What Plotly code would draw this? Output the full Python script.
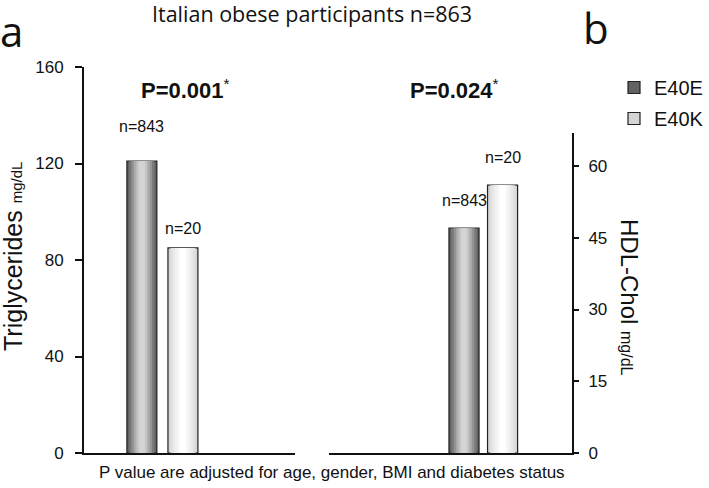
import plotly.graph_objects as go

# ---- data ----
genotypes = ["E40E", "E40K"]
tg_values = [121, 85]          # Triglycerides, mg/dL
hdl_values = [47, 56]          # HDL-Chol, mg/dL
n_labels = ["n=843", "n=20"]
tg_ticks = [0, 40, 80, 120, 160]
hdl_ticks = [0, 15, 30, 45, 60]
p_left = "P=0.001"
p_right = "P=0.024"
title_text = "Italian obese participants n=863"
footnote = "P value are adjusted for age, gender, BMI and diabetes status"

# ---- styling ----
W, H = 709, 488
ARIAL = "Liberation Sans, Arial, sans-serif"
CAL = "Open Sans, Noto Sans, sans-serif"

# nested layers emulate the cylindrical gradient of the original bars
layer_frac = [1.0, 0.84, 0.68, 0.52, 0.36, 0.2]
layer_colors = {
    "E40E": ["#636363", "#7a7a7a", "#949494", "#adadad", "#c4c4c4", "#d4d4d4"],
    "E40K": ["#d6d6d6", "#e0e0e0", "#e9e9e9", "#f1f1f1", "#f8f8f8", "#ffffff"],
}
# vertical gap (px) of each "n=" label above its bar
tg_label_gap = [24, 9]
hdl_label_gap = [17, 17]


def px(xp):
    return xp / W


def py(yp):
    return 1 - yp / H


fig = go.Figure()


def add_bars(values, xa, ya, width, show_legend):
    for g, v in zip(genotypes, values):
        for i, (f, c) in enumerate(zip(layer_frac, layer_colors[g])):
            outer = i == 0
            fig.add_trace(go.Bar(
                x=[g], y=[v], width=width * f,
                xaxis=xa, yaxis=ya,
                name=g, legendgroup=g,
                showlegend=show_legend and outer,
                marker=dict(color=c,
                            line=dict(color="#222222", width=1.2 if outer else 0)),
                hoverinfo="skip",
            ))


add_bars(tg_values, "x", "y", 0.73, True)
add_bars(hdl_values, "x2", "y2", 0.78, False)

annotations = []
# n labels above bars
for g, v, n, gap in zip(genotypes, tg_values, n_labels, tg_label_gap):
    annotations.append(dict(x=g, y=v, xref="x", yref="y", text=n, showarrow=False,
                            yanchor="bottom", yshift=gap,
                            font=dict(family=ARIAL, size=16, color="#111")))
for g, v, n, gap in zip(genotypes, hdl_values, n_labels, hdl_label_gap):
    annotations.append(dict(x=g, y=v, xref="x2", yref="y2", text=n, showarrow=False,
                            yanchor="bottom", yshift=gap,
                            font=dict(family=ARIAL, size=16, color="#111")))


def paper_text(x, y, text, size, family, angle=0):
    return dict(x=px(x), y=py(y), xref="paper", yref="paper", text=text,
                xanchor="center", yanchor="middle", textangle=angle,
                showarrow=False, font=dict(family=family, size=size, color="#111"))


annotations += [
    paper_text(312, 13, title_text, 21.5, CAL),
    paper_text(11, 31, "a", 42, CAL),
    paper_text(596, 28, "b", 42, CAL),
    paper_text(185, 89, "<b>" + p_left + "</b><sup>*</sup>", 22, ARIAL),
    paper_text(454, 89, "<b>" + p_right + "</b><sup>*</sup>", 22, ARIAL),
    paper_text(13, 257, "Triglycerides <span style='font-size:15px'>mg/dL</span>",
               25, ARIAL, -90),
    paper_text(630, 297, "HDL-Chol <span style='font-size:16px'>mg/dL</span>",
               24, ARIAL, 90),
    paper_text(332, 472, footnote, 17, ARIAL),
]

common_x = dict(showline=True, linecolor="#111", linewidth=2, showticklabels=False,
                ticks="", showgrid=False, zeroline=False, fixedrange=True)
common_y = dict(showline=True, linecolor="#111", linewidth=2, ticks="outside",
                tickcolor="#111", tickwidth=2, showgrid=False, zeroline=False,
                tickfont=dict(family=ARIAL, size=17, color="#111"), fixedrange=True)

fig.update_layout(
    width=W, height=H,
    margin=dict(l=0, r=0, t=0, b=0, autoexpand=False),
    paper_bgcolor="white", plot_bgcolor="white",
    barmode="overlay",
    showlegend=True,
    legend=dict(x=1, y=py(68), xanchor="right", yanchor="top",
                font=dict(family=ARIAL, size=20, color="#111"),
                bgcolor="rgba(0,0,0,0)", tracegroupgap=2),
    xaxis=dict(domain=[px(84), px(295)], range=[-1.41, 3.73], anchor="y", **common_x),
    yaxis=dict(domain=[py(453), py(67)], range=[0, 160], tickvals=tg_ticks,
               ticklen=7, ticklabelstandoff=8, anchor="x", **common_y),
    xaxis2=dict(domain=[px(329), px(572)], range=[-3.5, 2.8], anchor="y2", **common_x),
    yaxis2=dict(domain=[py(453), py(133)], range=[0, 66.9], tickvals=hdl_ticks,
                ticklen=5, ticklabelstandoff=6, side="right", anchor="x2", **common_y),
    annotations=annotations,
)

fig.write_html(
    "out.html",
    config={"displayModeBar": False, "staticPlot": True},
    post_script="document.body.style.margin='0';document.body.style.overflow='hidden';",
)
